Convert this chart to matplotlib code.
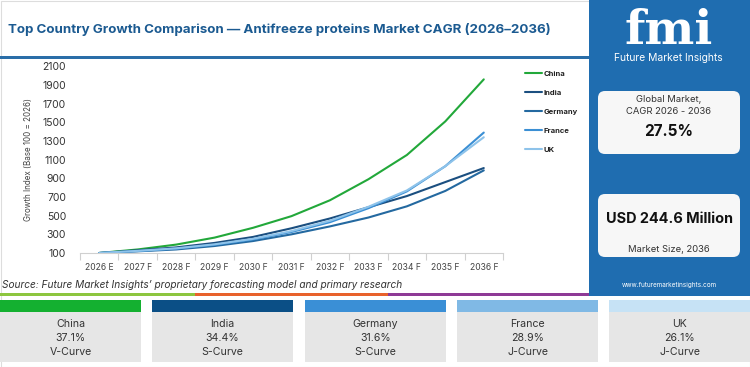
import matplotlib
matplotlib.use('Agg')
import matplotlib.pyplot as plt
from matplotlib.patches import Rectangle, FancyBboxPatch

# ---------------- data ----------------
years = ['2026 E', '2027 F', '2028 F', '2029 F', '2030 F', '2031 F',
         '2032 F', '2033 F', '2034 F', '2035 F', '2036 F']
countries = ['China', 'India', 'Germany', 'France', 'UK']
china = [100, 138, 190, 265, 370, 495, 665, 890, 1150, 1510, 1960]
india = [100, 129, 160, 208, 272, 365, 470, 590, 710, 860, 1010]
germany = [100, 118, 138, 175, 228, 300, 385, 480, 600, 765, 985]
france = [100, 121, 147, 188, 245, 325, 430, 580, 760, 1030, 1390]
uk = [100, 123, 150, 193, 252, 335, 445, 595, 770, 1030, 1340]
cagr_labels = ['37.1%', '34.4%', '31.6%', '28.9%', '26.1%']
curve_types = ['V-Curve', 'S-Curve', 'S-Curve', 'J-Curve', 'J-Curve']
y_ticks = list(range(100, 2101, 200))
global_cagr = '27.5%'
market_size = 'USD 244.6 Million'

series = [china, india, germany, france, uk]
line_colors = ['#22a83a', '#1b4f80', '#2469a0', '#3b8fd4', '#8ec3ea']
band_colors = ['#14b030', '#0b4f86', '#3a8fd6', '#80b9e5', '#c6e2f5']

plt.rcParams['font.family'] = ['Inter', 'DejaVu Sans']

W, H = 750, 367
fig = plt.figure(figsize=(W / 100, H / 100), dpi=100)
fig.patch.set_facecolor('white')

# overlay axes in pixel coordinates
bg = fig.add_axes([0, 0, 1, 1], zorder=0)
bg.set_xlim(0, W)
bg.set_ylim(H, 0)
bg.axis('off')

# outer faint border
bg.add_patch(Rectangle((0.5, 0.5), W - 1, H - 1, fill=False, ec='#dddddd', lw=0.8))

# title
bg.text(8, 30, 'Top Country Growth Comparison \u2014 Antifreeze proteins Market CAGR (2026\u20132036)',
        fontsize=9.6, fontweight='bold', color='#1b5a91', va='center', ha='left')
bg.add_patch(Rectangle((0, 55.5), 589, 3, color='#2a6ea8', lw=0))

# right panel
panel_c = '#1f6db0'
bg.add_patch(Rectangle((589, 0), W - 589, 296, color=panel_c, lw=0))
bg.text(669, 31, 'fmi', fontsize=34, fontweight='bold', family='DejaVu Serif',
        color='white', ha='center', va='center')
for yy in range(14, 50, 4):
    bg.add_patch(Rectangle((605, yy), 130, 1.1, color=panel_c, lw=0))
bg.text(668, 58, 'Future Market Insights', fontsize=7.4, color='white', ha='center', va='center')

bg.add_patch(FancyBboxPatch((598, 91), 142, 63, boxstyle='round,pad=0,rounding_size=7',
                            fc='#f7f7f7', ec='none'))
bg.text(669, 99, 'Global Market,', fontsize=6.8, color='#333333', ha='center', va='center')
bg.text(669, 111, 'CAGR 2026 - 2036', fontsize=6.8, color='#333333', ha='center', va='center')
bg.text(669, 132, global_cagr, fontsize=11, fontweight='bold', color='#111111', ha='center', va='center')

bg.add_patch(FancyBboxPatch((598, 194), 142, 63, boxstyle='round,pad=0,rounding_size=7',
                            fc='#f7f7f7', ec='none'))
bg.text(669, 219, market_size, fontsize=10.4, fontweight='bold', color='#111111', ha='center', va='center')
bg.text(669, 249, 'Market Size, 2036', fontsize=6.8, color='#333333', ha='center', va='center')
bg.text(669, 285, 'www.futuremarketinsights.com', fontsize=4.6, color='white', ha='center', va='center')

# source + divider
bg.text(2, 285, 'Source: Future Market Insights\u2019 proprietary forecasting model and primary research',
        fontsize=7.25, style='italic', color='#333333', ha='left', va='center')
bg.add_patch(Rectangle((0, 292.5), 195, 3.5, color='#8dc63f', lw=0))
bg.add_patch(Rectangle((195, 292.5), 193, 3.5, color='#e8622c', lw=0))
bg.add_patch(Rectangle((388, 292.5), 201, 3.5, color='#8e3a96', lw=0))

# bottom cards
card_x = [0, 152, 305, 457, 609]
card_w = 141
for i, cx in enumerate(card_x):
    bg.add_patch(Rectangle((cx, 300), card_w, 62, color='#e6e6e6', lw=0))
    bg.add_patch(Rectangle((cx, 300), card_w, 12, color=band_colors[i], lw=0))
    mx = cx + card_w / 2
    bg.text(mx, 324, countries[i], fontsize=7.6, color='#333333', ha='center', va='center')
    bg.text(mx, 338, cagr_labels[i], fontsize=7.6, color='#333333', ha='center', va='center')
    bg.text(mx, 352, curve_types[i], fontsize=7.6, color='#333333', ha='center', va='center')

# ---------------- chart ----------------
ax_l, ax_r = 80, 503
ax_top, ax_bot = 66.3, 253
ax = fig.add_axes([ax_l / W, 1 - ax_bot / H, (ax_r - ax_l) / W, (ax_bot - ax_top) / H], zorder=1)
ax.patch.set_alpha(0)
x = list(range(len(years)))
for name, vals, c in zip(countries, series, line_colors):
    ax.plot(x, vals, color=c, lw=1.5, label=name, solid_capstyle='round')

ax.set_xlim(-0.5, len(years) - 0.5)
ax.set_ylim(100, 2100)
ax.set_yticks(y_ticks)
ax.set_yticklabels([str(v) for v in y_ticks], fontsize=7.5, color='#333333')
ax.set_xticks(x)
ax.set_xticklabels(years, fontsize=6.2, color='#444444')
ax.set_xticks([i - 0.5 for i in range(len(years) + 1)], minor=True)
ax.tick_params(axis='y', length=0, pad=10)
ax.tick_params(axis='x', which='major', length=0, pad=7)
ax.tick_params(axis='x', which='minor', length=5, color='#d0d0d0', width=0.8)
for s in ['top', 'right', 'left']:
    ax.spines[s].set_visible(False)
ax.spines['bottom'].set_color('#d0d0d0')
ax.spines['bottom'].set_linewidth(0.8)
ax.set_ylabel('Growth Index (Base 100 = 2026)', fontsize=5.8, color='#444444', labelpad=7)

leg = ax.legend(loc='upper left', bbox_to_anchor=(521 / W, 1 - 67 / H),
                bbox_transform=fig.transFigure, frameon=False,
                prop={'size': 5.5, 'weight': 'bold'}, labelspacing=1.65,
                handlelength=2.3, handletextpad=0.15, borderpad=0)
for t in leg.get_texts():
    t.set_color('#222222')

fig.savefig('out.png', dpi=100, facecolor='white')
